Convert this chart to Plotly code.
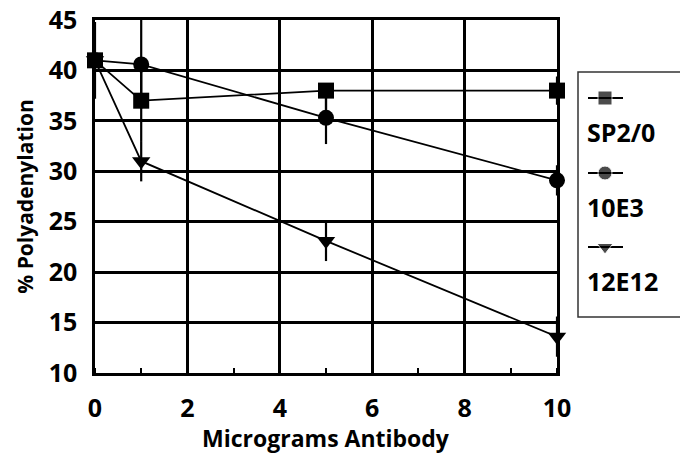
import plotly.graph_objects as go

# ---- data ----
doses = [0, 1, 5, 10]
sp2_vals = [41, 37, 38, 38]
sp2_err_plus = [3.8, 4.0, 0.0, 1.4]
sp2_err_minus = [3.8, 4.0, 2.6, 1.4]
e103_vals = [41, 40.6, 35.3, 29.1]
e103_err = [0.0, 4.4, 2.6, 1.5]
e1212_vals = [41, 31, 23.1, 13.6]
e1212_err = [0.0, 2.0, 2.0, 2.0]

series_names = ["SP2/0", "10E3", "12E12"]
series_symbols = ["square", "circle", "triangle-down"]

x_ticks = [0, 2, 4, 6, 8, 10]
y_ticks = [10, 15, 20, 25, 30, 35, 40, 45]

x_title = "Micrograms Antibody"
y_title = "% Polyadenylation"

FONT = "Open Sans"
BLACK = "#000000"

fig = go.Figure()

def add_series(y, plus, minus, symbol, name):
    fig.add_trace(go.Scatter(
        x=doses, y=y, mode="lines+markers", name=name,
        line=dict(color=BLACK, width=1.8),
        marker=dict(symbol=symbol, size=16, color=BLACK),
        error_y=dict(type="data", array=plus, arrayminus=minus, symmetric=False,
                     color=BLACK, thickness=2.2, width=0),
        cliponaxis=False, showlegend=False,
        xaxis="x", yaxis="y",
    ))

add_series(sp2_vals, sp2_err_plus, sp2_err_minus, "square", "SP2/0")
add_series(e103_vals, e103_err, e103_err, "circle", "10E3")
add_series(e1212_vals, e1212_err, e1212_err, "triangle-down", "12E12")

# ---- custom legend (symbol line above the label) ----
leg_sym_y = [98, 173, 247]
leg_txt_y = [132, 207, 281]
for name, sym, ys, yt in zip(series_names, series_symbols, leg_sym_y, leg_txt_y):
    fig.add_trace(go.Scatter(
        x=[588, 605, 623], y=[ys, ys, ys], mode="lines+markers",
        line=dict(color=BLACK, width=1.8),
        marker=dict(symbol=sym, size=[0, 14, 0], color=BLACK),
        xaxis="x2", yaxis="y2", showlegend=False, hoverinfo="skip",
        cliponaxis=False,
    ))
    fig.add_annotation(x=585, y=yt, xref="x2", yref="y2", text=name,
                       showarrow=False, xanchor="left", yanchor="middle",
                       font=dict(family=FONT, size=25, color=BLACK, weight="bold"))

fig.add_shape(type="rect", xref="paper", yref="paper",
              x0=(578 - 95) / 585, x1=1.05,
              y0=(373 - 317) / 353, y1=(373 - 72) / 353,
              line=dict(color="#333333", width=1.5), layer="below")

# x-axis title placed just under the tick labels
fig.add_annotation(x=0.5, xref="x domain", y=(373 - 438) / 353, yref="paper",
                   text=x_title, showarrow=False, xanchor="center", yanchor="middle",
                   font=dict(family=FONT, size=23, color=BLACK, weight="bold"))

fig.update_layout(
    width=680, height=455,
    margin=dict(l=95, r=0, t=20, b=82),
    paper_bgcolor="white", plot_bgcolor="white",
    font=dict(family=FONT, color=BLACK),
    xaxis=dict(
        domain=[0, 462 / 585], range=[0, 10], automargin=False,
        tickvals=x_ticks, ticktext=[str(v) for v in x_ticks],
        tickfont=dict(family=FONT, size=25, color=BLACK, weight="bold"),
        ticks="", ticklabelstandoff=11,
        showgrid=True, gridcolor=BLACK, gridwidth=2.5,
        showline=True, linecolor=BLACK, linewidth=2.5, mirror=True,
        zeroline=False,
        minor=dict(dtick=1, tick0=1, ticks="inside", ticklen=5,
                   tickcolor=BLACK, tickwidth=1.5, showgrid=False),
    ),
    yaxis=dict(
        domain=[0, 1], range=[10, 45], automargin=False,
        tickvals=y_ticks, ticktext=[str(v) for v in y_ticks],
        tickfont=dict(family=FONT, size=25, color=BLACK, weight="bold"),
        ticks="", ticklabelstandoff=10,
        showgrid=True, gridcolor=BLACK, gridwidth=2.5,
        showline=True, linecolor=BLACK, linewidth=2.5, mirror=True,
        zeroline=False,
        title=dict(text=y_title, standoff=10,
                   font=dict(family=FONT, size=21, color=BLACK, weight="bold")),
    ),
    xaxis2=dict(domain=[0.80, 1], range=[563, 680], visible=False,
                fixedrange=True),
    yaxis2=dict(domain=[0, 1], range=[373, 20], visible=False,
                fixedrange=True, anchor="x2"),
)

fig.write_html("out.html", config={"displayModeBar": False},
               post_script="document.body.style.margin='0';document.body.style.overflow='hidden';")
